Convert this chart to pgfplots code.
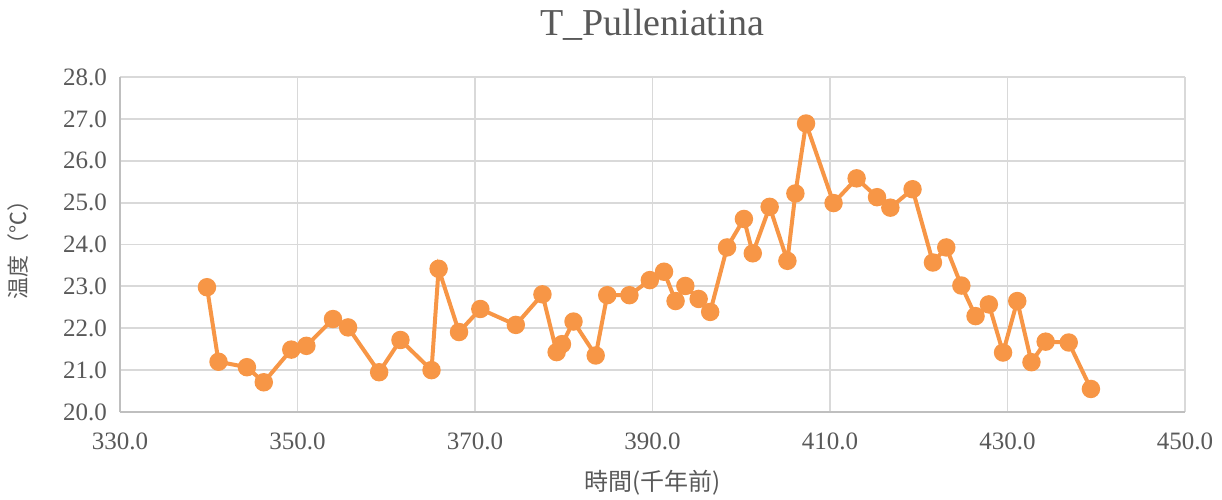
\documentclass[border=0pt]{standalone}
\usepackage{fontspec}
\setmainfont{Liberation Serif}
\newfontfamily\cjk{Noto Sans CJK JP}
\usepackage{pgfplots}
\pgfplotsset{compat=1.18}
\definecolor{lineor}{HTML}{F79646}
\definecolor{txt}{HTML}{595959}
\definecolor{gridc}{HTML}{D9D9D9}
\definecolor{axc}{HTML}{BFBFBF}
\begin{document}
\begin{tikzpicture}
\begin{axis}[
  at={(0,0)}, anchor=south west,
  scale only axis, width=532.5pt, height=167.5pt,
  xmin=330, xmax=450, ymin=20, ymax=28,
  xtick={330,350,...,450}, ytick={20,21,...,28},
  grid=major, major grid style={gridc, line width=0.9pt},
  axis x line=bottom, axis y line=left,
  axis line style={axc, line width=0.9pt, -},
  major tick length=0pt,
  tick label style={font=\fontsize{12.5}{14}\selectfont, text=txt},
  /pgf/number format/.cd, fixed, fixed zerofill, precision=1, assume math mode=true,
  /pgfplots/.cd,
  xticklabel style={yshift=-7pt},
  yticklabel style={xshift=-3pt},
  clip=false,
]
\addplot[lineor, line width=2pt, mark=*, mark size=3.6pt, mark options={fill=lineor, draw=lineor}] coordinates {
(339.8,22.98) (341.1,21.20) (344.3,21.07) (346.2,20.71) (349.3,21.49)
(351.0,21.58) (354.0,22.22) (355.7,22.02) (359.2,20.95) (361.6,21.72)
(365.1,21.00) (365.9,23.42) (368.2,21.91) (370.6,22.46) (374.6,22.08)
(377.6,22.81) (379.2,21.43) (379.8,21.62) (381.1,22.16) (383.6,21.35)
(384.9,22.79) (387.4,22.79) (389.7,23.15) (391.3,23.35) (392.6,22.65)
(393.7,23.01) (395.2,22.70) (396.5,22.39) (398.4,23.93) (400.3,24.61)
(401.3,23.79) (403.2,24.90) (405.2,23.61) (406.1,25.22) (407.3,26.89)
(410.4,24.99) (413.0,25.58) (415.3,25.13) (416.8,24.88) (419.3,25.32)
(421.6,23.57) (423.1,23.93) (424.8,23.02) (426.4,22.29) (427.9,22.57)
(429.5,21.42) (431.1,22.65) (432.7,21.19) (434.3,21.68) (436.9,21.66)
(439.4,20.55)
};
\end{axis}
\path[use as bounding box] (-60pt,-43.5pt) rectangle (551pt,206pt);
\node[text=txt, font=\fontsize{19}{22}\selectfont] at (266pt,193.5pt) {T\_Pulleniatina};
\node[text=txt, font=\cjk\fontsize{12}{14}\selectfont] at (266.25pt,-35.5pt) {時間(千年前)};
\node[text=txt, font=\cjk\fontsize{11}{13}\selectfont, rotate=90] at (-51pt,83.75pt) {温度（℃）};
\end{tikzpicture}
\end{document}
